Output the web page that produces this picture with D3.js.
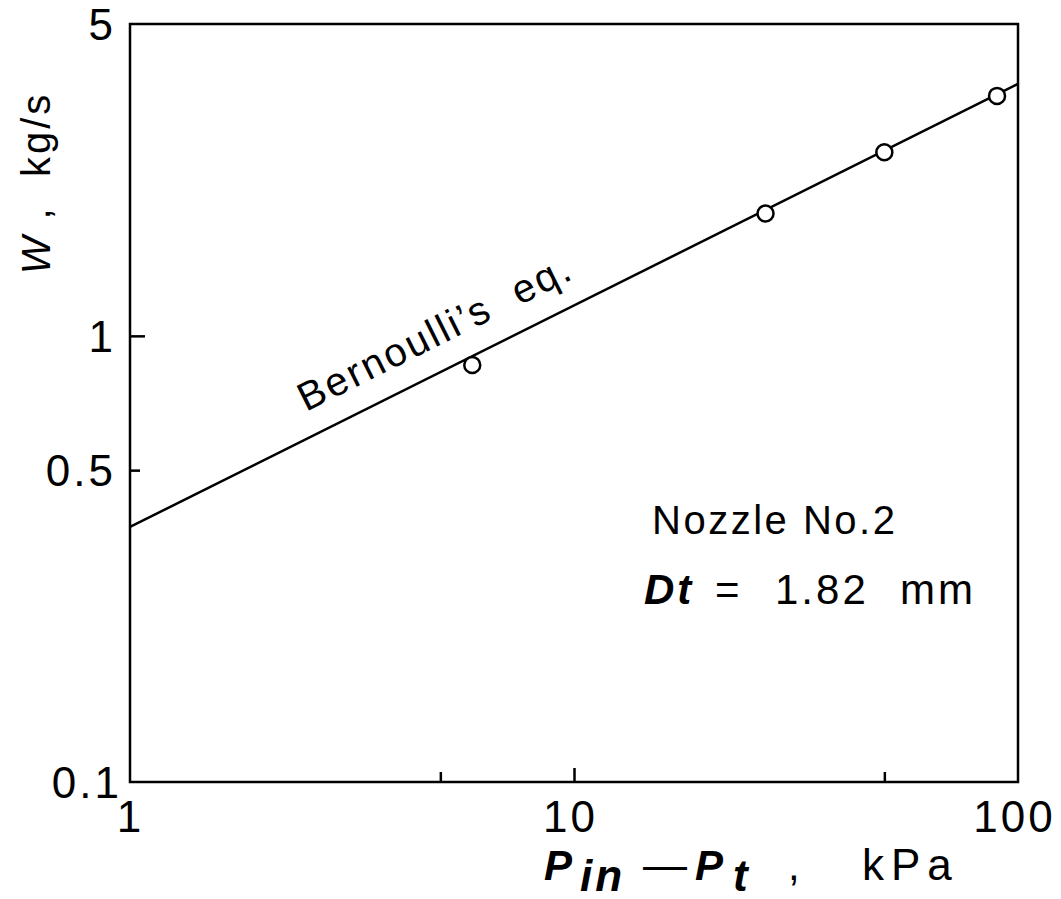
<!DOCTYPE html>
<html><head><meta charset="utf-8">
<script src="https://cdn.jsdelivr.net/npm/d3@7"></script>
<style>body{margin:0;background:#fff}svg text{font-family:"Liberation Sans",Arial,sans-serif;fill:#000;white-space:pre}</style>
</head><body>
<svg id="c" width="1061" height="899"></svg>
<script>
const pressure = [5.9, 27, 50, 89.7];          // Pin - Pt, kPa
const flow = [0.86, 1.88, 2.58, 3.45];          // W, kg/s
const bernoulliP = [1, 100];
const bernoulliW = [0.373, 3.67];
const xTicks = [1, 5, 10, 50, 100];
const xTickLabels = ["1", "", "10", "", "100"];
const yTicks = [0.1, 0.5, 1, 5];
const yTickLabels = ["0.1", "0.5", "1", "5"];

const svg = d3.select("#c");
const L = 130, R = 1018, T = 24, B = 782;
const x = d3.scaleLog().domain([1, 100]).range([L, R]);
const y = d3.scaleLog().domain([0.1, 5]).range([B, T]);

// frame
svg.append("rect").attr("x", L).attr("y", T).attr("width", R - L).attr("height", B - T)
  .attr("fill", "none").attr("stroke", "#000").attr("stroke-width", 2.5);

// x axis ticks (inward)
const xa = svg.append("g").attr("transform", `translate(0,${B})`)
  .call(d3.axisBottom(x).tickValues(xTicks).tickSizeInner(0).tickSizeOuter(0).tickPadding(0)
    .tickFormat((d, i) => xTickLabels[i]));
xa.select(".domain").remove();
xa.selectAll(".tick line").attr("y2", d => (d === 10 ? -14 : -10)).attr("stroke", "#000").attr("stroke-width", 2.5)
  .attr("display", d => (d === 1 || d === 100) ? "none" : null);
xa.selectAll(".tick text").attr("font-size", 44).attr("letter-spacing", 3).attr("dy", 0).attr("y", 50)
  .attr("dx", d => d === 100 ? -4 : (d === 10 ? -4 : 0));

// y axis ticks (inward)
const ya = svg.append("g").attr("transform", `translate(${L},0)`)
  .call(d3.axisLeft(y).tickValues(yTicks).tickSizeInner(0).tickSizeOuter(0).tickPadding(0)
    .tickFormat((d, i) => yTickLabels[i]));
ya.select(".domain").remove();
ya.selectAll(".tick line").attr("x2", d => (d === 1 ? 15 : 10)).attr("stroke", "#000").attr("stroke-width", 2.5)
  .attr("display", d => (d === 0.1 || d === 5) ? "none" : null);
ya.selectAll(".tick text").attr("font-size", 44).attr("letter-spacing", 3).attr("x", d => d === 0.1 ? -8 : -14).attr("dy", "0.36em");

// Bernoulli line
const line = d3.line().x((d, i) => x(bernoulliP[i])).y(d => y(d));
svg.append("path").datum(bernoulliW).attr("d", line).attr("fill", "none")
  .attr("stroke", "#000").attr("stroke-width", 2.5);

// data points
svg.selectAll("circle.pt").data(pressure).enter().append("circle").attr("class", "pt")
  .attr("cx", d => x(d)).attr("cy", (d, i) => y(flow[i])).attr("r", 8)
  .attr("fill", "#fff").attr("stroke", "#000").attr("stroke-width", 2.5);

// Bernoulli label
const ang = Math.atan2(y(bernoulliW[1]) - y(bernoulliW[0]), x(100) - x(1)) * 180 / Math.PI;
svg.append("text").attr("transform", `translate(306,412) rotate(${ang})`)
  .attr("font-size", 40).attr("letter-spacing", 2.5).text("Bernoulli’s  eq.");

// annotation
svg.append("text").attr("x", 652).attr("y", 534).attr("font-size", 40).attr("letter-spacing", 2.5).text("Nozzle No.2");
const t2 = svg.append("text").attr("y", 604).attr("font-size", 42).attr("letter-spacing", 3);
t2.append("tspan").attr("x", 644).attr("font-style", "italic").attr("font-weight", "bold").text("Dt");
t2.append("tspan").attr("x", 715).text("=");
t2.append("tspan").attr("x", 775).text("1.82");
t2.append("tspan").attr("x", 900).text("mm");

// y title
const yt = svg.append("text").attr("transform", "translate(50,183) rotate(-90)")
  .attr("text-anchor", "middle").attr("font-size", 40).attr("letter-spacing", 3);
yt.append("tspan").attr("font-style", "italic").text("W");
yt.append("tspan").text(" ,  kg/s");

// x title
const xt = svg.append("text").attr("y", 880).attr("font-size", 42);
xt.append("tspan").attr("x", 544).attr("font-style", "italic").attr("font-weight", "bold").text("P");
xt.append("tspan").attr("x", 580).attr("font-style", "italic").attr("font-weight", "bold").attr("font-size", 44)
  .attr("letter-spacing", 3).attr("dy", 11).text("in");
xt.append("tspan").attr("x", 643).attr("dy", -11).attr("font-size", 44).text("—");
xt.append("tspan").attr("x", 695).attr("font-style", "italic").attr("font-weight", "bold").text("P");
xt.append("tspan").attr("x", 733).attr("font-style", "italic").attr("font-weight", "bold").attr("font-size", 44).attr("dy", 11).text("t");
xt.append("tspan").attr("x", 788).attr("dy", -11).attr("font-size", 42).text(",");
xt.append("tspan").attr("x", 862).attr("font-size", 44).attr("letter-spacing", 7).text("kPa");
</script>
</body></html>
